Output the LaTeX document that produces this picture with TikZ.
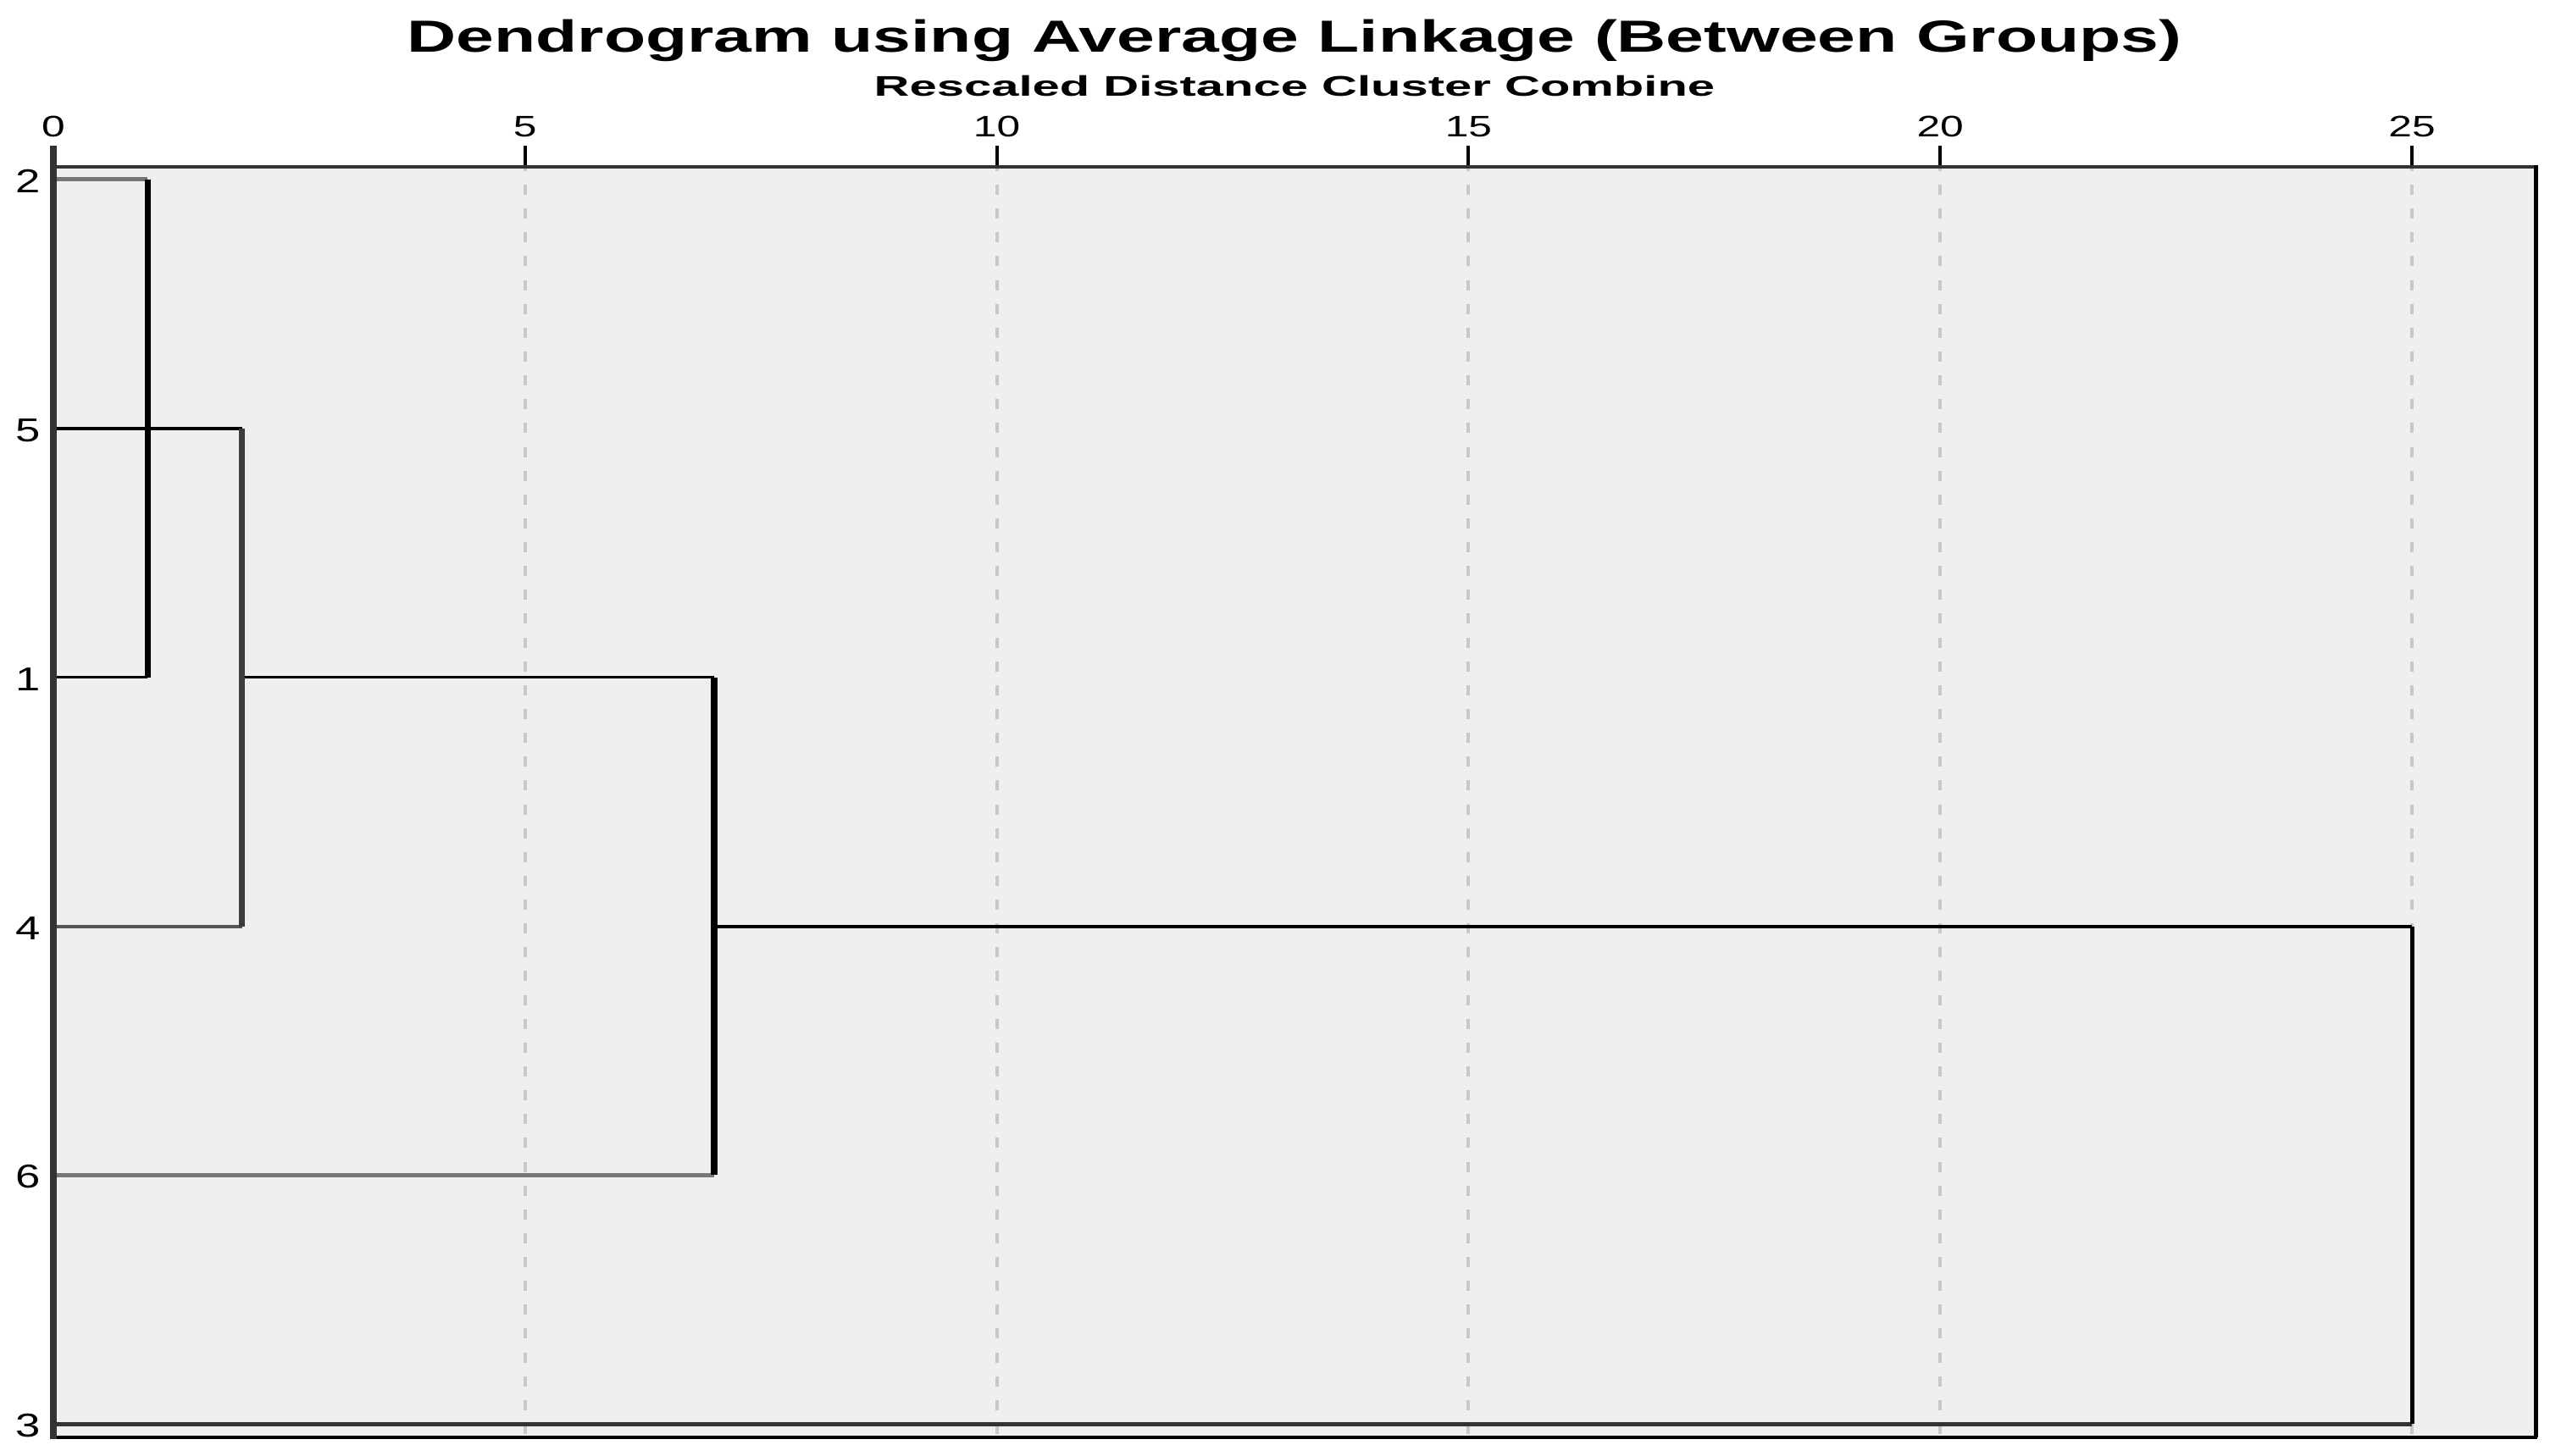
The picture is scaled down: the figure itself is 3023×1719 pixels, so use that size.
\documentclass[tikz,border=0pt]{standalone}
\usepackage{fontspec}
\setmainfont{Liberation Sans}
\usepackage{graphicx}
\definecolor{bgc}{HTML}{EFEFEF}
\definecolor{gridc}{HTML}{C8C8C8}
\definecolor{axisc}{HTML}{333333}
\definecolor{lgray}{HTML}{777777}
\definecolor{mgray}{HTML}{555555}
\definecolor{dgray}{HTML}{3C3C3C}
\begin{document}
\begin{tikzpicture}[x=0.01cm,y=-0.01cm,
  pw/.style={line width=#1*0.2845pt},
  gridline/.style={gridc,pw=4,dash pattern=on 3.4pt off 4.6pt,dash phase=-6pt},
  tickmark/.style={black,pw=4},
  ticklab/.style={anchor=base,inner sep=0pt,font=\fontsize{9.96pt}{12pt}\selectfont},
  leaflab/.style={anchor=east,inner sep=0pt,font=\fontsize{11.1pt}{13pt}\selectfont},
  hleaf/.style={pw=4},
  vmerge/.style={pw=7}]
\useasboundingbox (0,0) rectangle (3023,1719);
\fill[white] (0,0) rectangle (3023,1719);
% titles
\node[anchor=base,inner sep=0pt] (title) at (1528,62)
  {\resizebox{20.93cm}{\height}{\fontsize{15.08pt}{18pt}\selectfont\bfseries Dendrogram using Average Linkage (Between Groups)}};
\node[anchor=base,inner sep=0pt] (subtitle) at (1528,114)
  {\resizebox{9.92cm}{\height}{\fontsize{9.54pt}{12pt}\selectfont\bfseries Rescaled Distance Cluster Combine}};
% plot area
\fill[bgc] (63,197) rectangle (2993,1697);
\foreach \k in {5,10,15,20,25}
  \draw[gridline] ({63+\k*111.36},197) -- ({63+\k*111.36},1697);
% ticks and tick labels
\foreach \k in {0,5,10,15,20,25}{
  \draw[tickmark] ({63+\k*111.36},172) -- ({63+\k*111.36},197);
  \node[ticklab] (t\k) at ({63+\k*111.36},162) {\scalebox{1.42}[1]{\k}};
}
% leaves
\coordinate (L2) at (63,212);
\coordinate (L5) at (63,506);
\coordinate (L1) at (63,800);
\coordinate (L4) at (63,1094);
\coordinate (L6) at (63,1387);
\coordinate (L3) at (63,1681);
\foreach \n/\yy in {2/212,5/506,1/800,4/1094,6/1387,3/1681}
  \node[leaflab] (lab\n) at (49,\yy+2) {\scalebox{1.35}[1]{\n}};
% merge points
\coordinate (A2) at (174.4,212);
\coordinate (A1) at (174.4,800);
\coordinate (B5) at (285.7,506);
\coordinate (B4) at (285.7,1094);
\coordinate (B1) at (285.7,800);
\coordinate (C1) at (842.5,800);
\coordinate (C6) at (842.5,1387);
\coordinate (D4) at (842.5,1094);
\coordinate (E4) at (2847,1094);
\coordinate (E3) at (2847,1681);
% horizontals
\draw[lgray,pw=5] (L2) -- (A2);
\draw[black,pw=3] (L1) -- (A1);
\draw[black,pw=4] (L5) -- (B5);
\draw[mgray,pw=4] (L4) -- (B4);
\draw[black,pw=3] (B1) -- (C1);
\draw[lgray,pw=5] (L6) -- (C6);
\draw[black,pw=4] (D4) -- (E4);
\draw[axisc,pw=5] (L3) -- (E3);
% verticals
\draw[black,vmerge] (A2) -- (A1);
\draw[dgray,vmerge] (B5) -- (B4);
\draw[black,pw=8] (C1) -- (C6);
\draw[black,pw=5] (E4) -- (E3);
% frame
\draw[axisc,pw=4] (63,197) -- (2993,197);
\draw[black,pw=5] (2993,195) -- (2993,1697);
\draw[black,pw=4] (59,1697) -- (2995,1697);
\draw[axisc,pw=8] (63,172) -- (63,1699);
\end{tikzpicture}
\end{document}
